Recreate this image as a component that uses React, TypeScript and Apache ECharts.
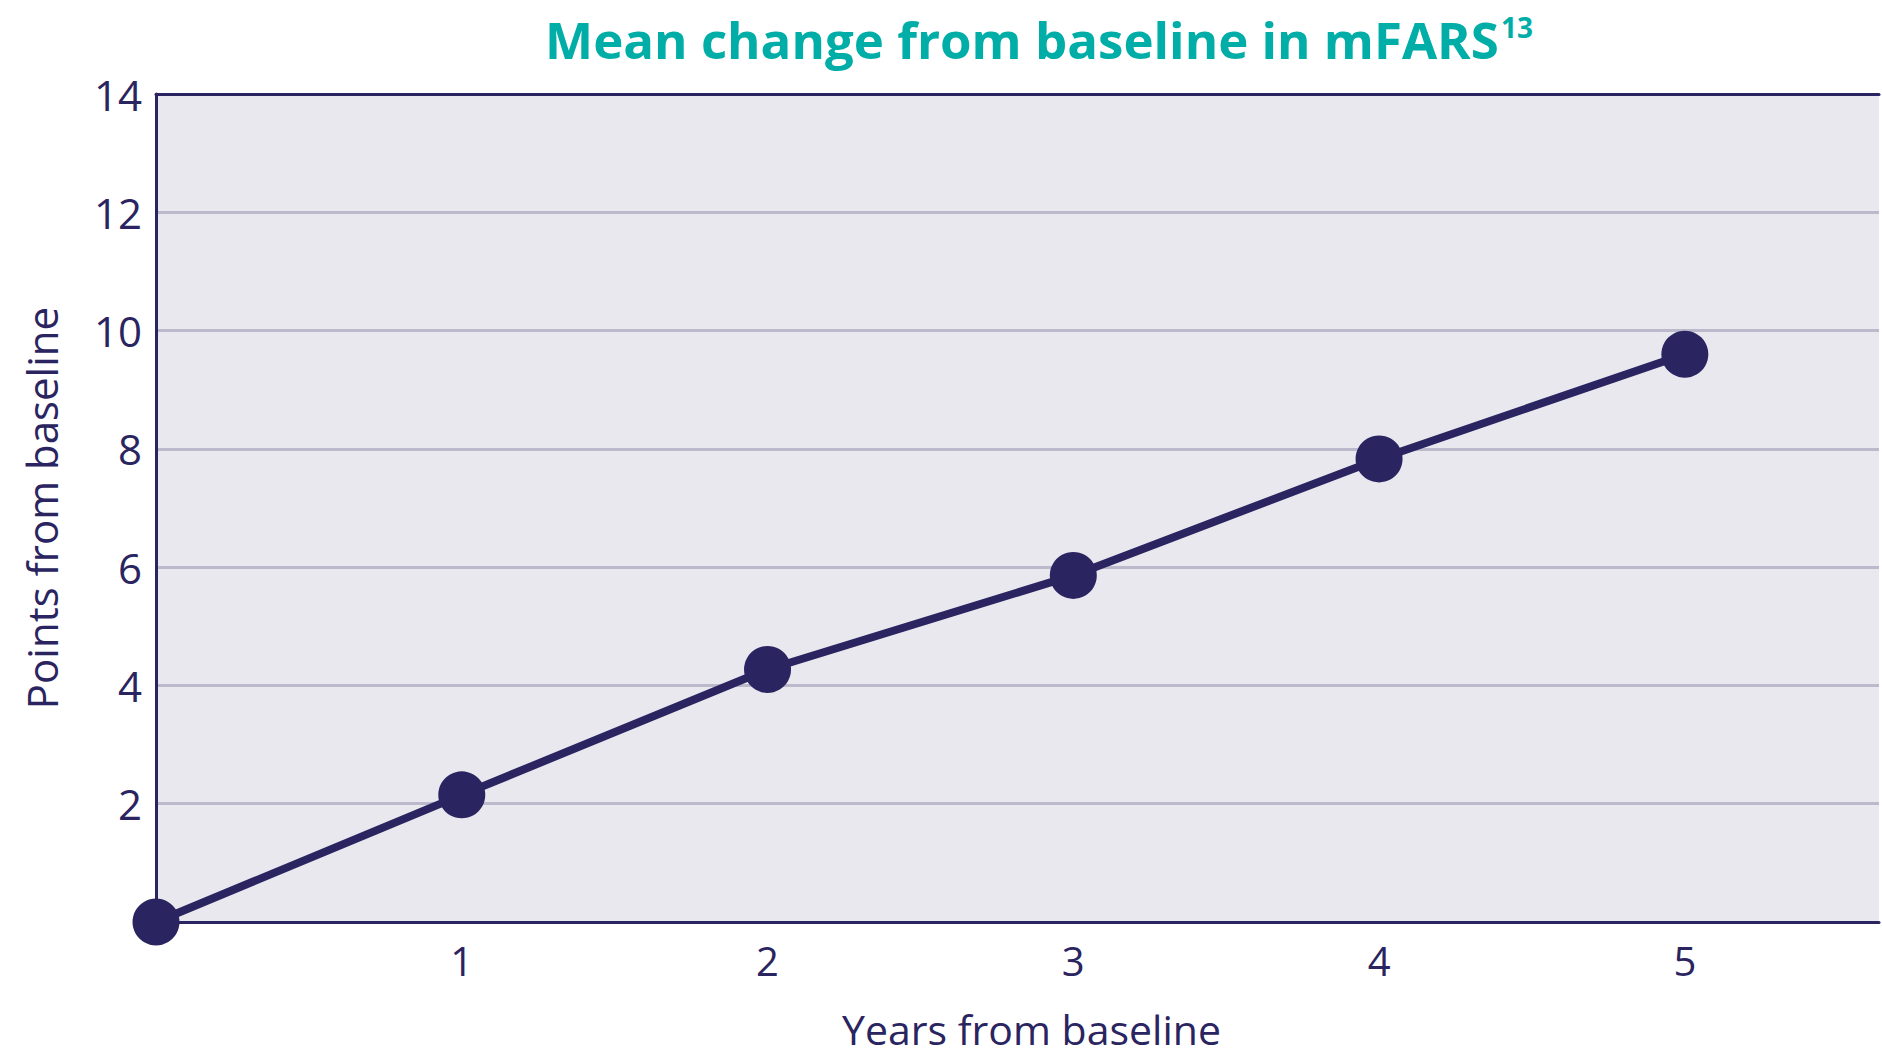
import React, { useEffect, useRef } from "react";
import * as echarts from "echarts";

const years = [0, 1, 2, 3, 4, 5];
const meanChange = [0, 2.15, 4.27, 5.86, 7.83, 9.6];
const yTicks = [2, 4, 6, 8, 10, 12, 14];
const xTicks = [1, 2, 3, 4, 5];

const NAVY = "#2a2560";
const TEAL = "#00ada7";
const FONT = "'Open Sans', 'Noto Sans', sans-serif";

export default function App() {
  const ref = useRef<HTMLDivElement>(null);
  useEffect(() => {
    if (!ref.current) return;
    const chart = echarts.init(ref.current, undefined, { renderer: "svg" });
    const data = years.map((x, i) => [x, meanChange[i]]);
    chart.setOption({
      animation: false,
      backgroundColor: "#ffffff",
      title: {
        text: "{t|Mean change from baseline in mFARS}{s|13}",
        left: 1034,
        textAlign: "center",
        top: 8,
        textStyle: {
          rich: {
            t: { fontFamily: FONT, fontWeight: "bold", fontSize: 51, color: TEAL },
            s: {
              fontFamily: FONT,
              fontWeight: "bold",
              fontSize: 28,
              color: TEAL,
              verticalAlign: "top",
              padding: [0, 0, 20, 2],
            },
          },
        },
      },
      grid: {
        left: 156,
        right: 0,
        top: 94,
        bottom: 1058 - 922,
        show: true,
        backgroundColor: "#e9e8ef",
        borderWidth: 0,
      },
      xAxis: [
        {
          type: "value",
          min: 0,
          max: 5.635,
          interval: 1,
          name: "Years from baseline",
          nameLocation: "middle",
          nameGap: 86,
          nameTextStyle: { fontFamily: FONT, fontSize: 41, color: NAVY, padding: [0, 0, 0, 28] },
          axisLine: { show: true, onZero: false, lineStyle: { color: NAVY, width: 3 } },
          axisTick: { show: false },
          splitLine: { show: false },
          axisLabel: {
            fontFamily: FONT,
            fontSize: 40,
            color: NAVY,
            margin: 18,
            formatter: (v: number) => (xTicks.includes(v) ? String(v) : ""),
          },
        },
        {
          type: "value",
          position: "top",
          min: 0,
          max: 5.635,
          interval: 1,
          axisLine: { show: true, onZero: false, lineStyle: { color: NAVY, width: 3 } },
          axisTick: { show: false },
          axisLabel: { show: false },
          splitLine: { show: false },
        },
      ],
      yAxis: {
        type: "value",
        min: 0,
        max: 14,
        interval: 2,
        name: "Points from baseline",
        nameLocation: "middle",
        nameGap: 94,
        nameTextStyle: { fontFamily: FONT, fontSize: 42, color: NAVY },
        axisLine: { show: true, onZero: false, lineStyle: { color: NAVY, width: 3 } },
        axisTick: { show: false },
        splitLine: { show: true, lineStyle: { color: "#bcb9cc", width: 3 } },
        axisLabel: {
          fontFamily: FONT,
          fontSize: 42,
          color: NAVY,
          margin: 14,
          formatter: (v: number) => (yTicks.includes(v) ? String(v) : ""),
        },
      },
      series: [
        {
          type: "line",
          data,
          clip: false,
          symbol: "circle",
          symbolSize: 47,
          lineStyle: { color: NAVY, width: 8 },
          itemStyle: { color: NAVY },
          z: 5,
        },
      ],
    });
    return () => chart.dispose();
  }, []);
  return (
    <div
      ref={ref}
      style={{ position: "fixed", left: 0, top: 0, width: 1882, height: 1058 }}
    />
  );
}
